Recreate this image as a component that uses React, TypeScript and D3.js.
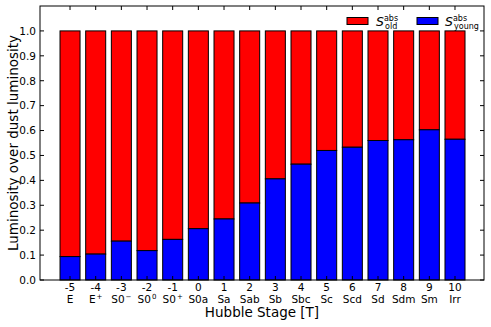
import React from "react";
import * as d3 from "d3";

const stages = [-5, -4, -3, -2, -1, 0, 1, 2, 3, 4, 5, 6, 7, 8, 9, 10];
const names: [string, string][] = [
  ["E", ""], ["E", "+"], ["S0", "−"], ["S0", "0"], ["S0", "+"], ["S0a", ""], ["Sa", ""], ["Sab", ""],
  ["Sb", ""], ["Sbc", ""], ["Sc", ""], ["Scd", ""], ["Sd", ""], ["Sdm", ""], ["Sm", ""], ["Irr", ""],
];
const young = [0.094, 0.104, 0.156, 0.118, 0.163, 0.206, 0.245, 0.309, 0.406, 0.465, 0.52, 0.533, 0.56, 0.563, 0.603, 0.565];
const total = [1, 1, 1, 1, 1, 1, 1, 1, 1, 1, 1, 1, 1, 1, 1, 1];
const yTicks = [0, 0.1, 0.2, 0.3, 0.4, 0.5, 0.6, 0.7, 0.8, 0.9, 1.0];

const W = 491, H = 327;
const L = 40, R = 484, T = 6, B = 280;
const FONT = "DejaVu Sans";

export default function App() {
  const x = d3.scaleLinear().domain([-6.17, 11.13]).range([L, R]);
  const y = d3.scaleLinear().domain([0, 1.1]).range([B, T]);
  const bw = x(0.78) - x(0);
  return (
    <svg width={W} height={H} style={{ position: "absolute", left: 0, top: 0 }} fontFamily={FONT}>
      <rect x={0} y={0} width={W} height={H} fill="white" />
      {stages.map((s, i) => (
        <g key={s}>
          <rect x={x(s) - bw / 2} y={y(total[i])} width={bw} height={y(young[i]) - y(total[i])} fill="#ff0000" stroke="black" strokeWidth={1} />
          <rect x={x(s) - bw / 2} y={y(young[i])} width={bw} height={y(0) - y(young[i])} fill="#0000ff" stroke="black" strokeWidth={1} />
        </g>
      ))}
      <rect x={L} y={T} width={R - L} height={B - T} fill="none" stroke="black" strokeWidth={1} />
      {yTicks.map((t) => (
        <g key={t}>
          <line x1={L} x2={L + 4} y1={y(t)} y2={y(t)} stroke="black" />
          <line x1={R} x2={R - 4} y1={y(t)} y2={y(t)} stroke="black" />
          <text x={L - 4} y={y(t)} dy="0.36em" textAnchor="end" fontSize={10.5}>{t.toFixed(1)}</text>
        </g>
      ))}
      {stages.map((s, i) => (
        <g key={"t" + s}>
          <line x1={x(s)} x2={x(s)} y1={B} y2={B - 4} stroke="black" />
          <line x1={x(s)} x2={x(s)} y1={T} y2={T + 4} stroke="black" />
          <text x={x(s)} y={291} textAnchor="middle" fontSize={10.5}>{s}</text>
          <text x={x(s)} y={302.5} textAnchor="middle" fontSize={10.5}>
            {names[i][0]}
            {names[i][1] && <tspan dy={-3.5} fontSize={7} dx={1}>{names[i][1]}</tspan>}
          </text>
        </g>
      ))}
      <text x={(L + R) / 2} y={317} textAnchor="middle" fontSize={13.5}>Hubble Stage [T]</text>
      <text transform={`translate(18,${(T + B) / 2}) rotate(-90)`} textAnchor="middle" fontSize={13.5}>Luminosity over dust luminosity</text>
      <g>
        <rect x={347} y={17.5} width={21} height={7} fill="#ff0000" stroke="black" />
        <text x={376} y={26} fontSize={12.5}>
          <tspan fontStyle="italic">S</tspan>
          <tspan dy={-5.5} fontSize={8}>abs</tspan>
          <tspan dx={-13} dy={8.5} fontSize={8}>old</tspan>
        </text>
        <rect x={417} y={17.5} width={21} height={7} fill="#0000ff" stroke="black" />
        <text x={445} y={26} fontSize={12.5}>
          <tspan fontStyle="italic">S</tspan>
          <tspan dy={-5.5} fontSize={8}>abs</tspan>
          <tspan dx={-13} dy={8.5} fontSize={8}>young</tspan>
        </text>
      </g>
    </svg>
  );
}
